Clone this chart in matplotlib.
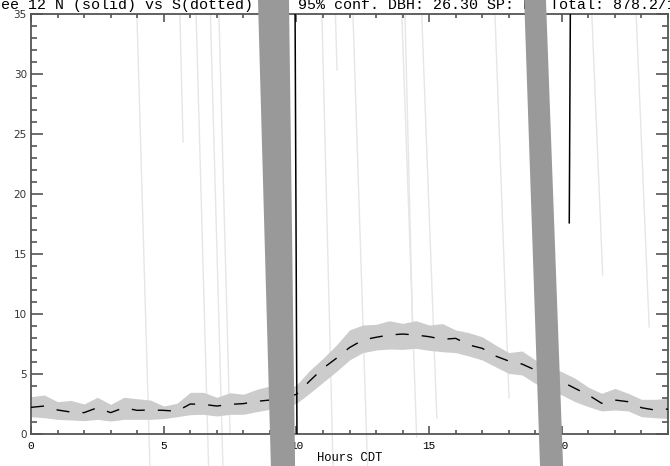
import matplotlib
matplotlib.use('Agg')
import matplotlib.pyplot as plt
from matplotlib.ticker import MultipleLocator
import numpy as np

# half-hour steps, hours CDT
hours = np.arange(0, 24.5, 0.5)

mean_s = [2.22, 2.33, 2.00, 1.83, 1.78, 2.19, 1.78, 2.19, 1.97, 2.00,
          1.97, 1.90, 2.50, 2.47, 2.33, 2.47, 2.53, 2.72, 2.83, 3.03,
          3.30, 4.42, 5.47, 6.30, 7.20, 7.83, 8.06, 8.25, 8.33, 8.25,
          8.11, 7.89, 7.97, 7.42, 7.14, 6.50, 6.08, 5.83, 5.33, 4.78,
          4.36, 3.80, 3.25, 2.56, 2.83, 2.69, 2.19, 2.00, 2.08]
upper_s = [3.11, 3.25, 2.69, 2.80, 2.50, 3.06, 2.47, 3.06, 2.94, 2.83,
           2.33, 2.56, 3.47, 3.47, 3.06, 3.44, 3.31, 3.72, 4.00, 3.58,
           4.08, 5.30, 6.30, 7.40, 8.67, 9.08, 9.14, 9.44, 9.22, 9.44,
           9.08, 9.20, 8.67, 8.44, 8.10, 7.42, 6.78, 6.92, 6.17, 5.60,
           5.19, 4.64, 3.90, 3.39, 3.80, 3.39, 2.89, 2.89, 2.97]
lower_s = [1.44, 1.36, 1.22, 1.17, 1.11, 1.22, 1.08, 1.22, 1.22, 1.22,
           1.28, 1.44, 1.61, 1.64, 1.50, 1.64, 1.64, 1.86, 2.06, 2.14,
           2.56, 3.40, 4.30, 5.20, 6.17, 6.78, 7.00, 7.08, 7.05, 7.14,
           6.97, 6.86, 6.78, 6.50, 6.17, 5.60, 5.05, 4.92, 4.22, 3.67,
           3.25, 2.69, 2.28, 1.92, 2.00, 1.92, 1.44, 1.36, 1.30]

# faint traces: (x start, x end, y start, y end)
faint_x0 = [3.99, 5.61, 6.22, 6.76, 7.08, 10.96, 11.47, 12.13, 13.97, 14.09, 14.72, 17.48, 21.13, 22.80]
faint_x1 = [4.48, 5.73, 6.69, 7.23, 7.50, 11.38, 11.53, 12.68, 14.53, 14.39, 15.29, 18.01, 21.54, 23.29]
faint_y0 = [35.0] * 14
faint_y1 = [-2.67, 24.33, -2.67, -2.67, 0.0, -2.67, 30.33, -2.67, -0.25, 7.83, 1.33, 3.0, 13.25, 8.92]

# solid N traces
solid_x0 = [9.95, 20.32]
solid_x1 = [10.02, 20.28]
solid_y0 = [35.0, 35.0]
solid_y1 = [0.0, 17.6]

# dark bands: left/right x at top and bottom
band_top_y, band_bot_y = 36.3, -2.8
band_top_l = [8.55, 18.58]
band_top_r = [9.72, 19.40]
band_bot_l = [9.04, 19.18]
band_bot_r = [9.95, 20.05]

title = ('Tree 12 N (solid) vs S(dotted) +/- 95% conf. DBH: 26.30 SP: RO '
         'Total: 878.2/1024')

fig = plt.figure(figsize=(6.7, 4.66), dpi=100)
ax = fig.add_axes([31 / 670, 32 / 466, 637 / 670, 420 / 466])

for x0, x1, y0, y1 in zip(faint_x0, faint_x1, faint_y0, faint_y1):
    ax.plot([x0, x1], [y0, y1], color='#e6e6e6', lw=1.0, clip_on=False, zorder=1)

ax.fill_between(hours, lower_s, upper_s, color='#cccccc', lw=0, zorder=2)
ax.plot(hours, mean_s, color='black', lw=1.0, dashes=(9.4, 9.4), zorder=3)

for x0, x1, y0, y1 in zip(solid_x0, solid_x1, solid_y0, solid_y1):
    ax.plot([x0, x1], [y0, y1], color='black', lw=1.1, zorder=4)

for tl, tr, bl, br in zip(band_top_l, band_top_r, band_bot_l, band_bot_r):
    ax.fill([tl, tr, br, bl], [band_top_y, band_top_y, band_bot_y, band_bot_y],
            color='#999999', lw=0, clip_on=False, zorder=10)

ax.text(-17 / 670, 1 - 9.5 / 466, title, transform=fig.transFigure,
        family='Liberation Mono', fontsize=10.8, va='baseline', ha='left',
        clip_on=False, zorder=1)

ax.set_xlim(0, 24)
ax.set_ylim(0, 35)
ax.set_xticks([0, 5, 10, 15, 20])
ax.set_xticklabels(['0', '5', '10', '15', '20'], family='Liberation Mono', fontsize=8)
ax.xaxis.set_minor_locator(MultipleLocator(1))
ax.set_yticks(range(0, 36, 5))
ax.yaxis.set_minor_locator(MultipleLocator(1))
for lab in ax.get_yticklabels():
    lab.set_fontsize(7.5)
    lab.set_color('#333333')

for sp in ax.spines.values():
    sp.set_color('#555555')
    sp.set_linewidth(1.3)

ax.tick_params(which='both', direction='in', top=True, right=True, color='#555555', width=1.2)
ax.tick_params(axis='y', which='major', length=8.6, pad=3)
ax.tick_params(axis='y', which='minor', length=4.3)
ax.tick_params(axis='x', which='major', length=5.8, pad=5)
ax.tick_params(axis='x', which='minor', length=2.9)

ax.set_xlabel('Hours CDT', family='Liberation Mono', fontsize=8.7, labelpad=1)

fig.savefig('out.png', dpi=100)
